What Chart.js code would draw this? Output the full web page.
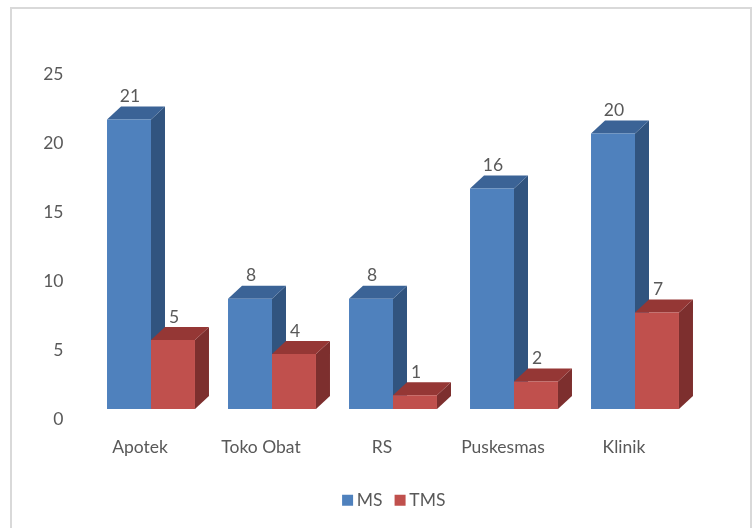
<!DOCTYPE html>
<html><head><meta charset="utf-8">
<style>html,body{margin:0;padding:0;background:#fff}#w{width:755px;height:528px;position:relative}canvas{display:block}</style>
<script src="https://cdn.jsdelivr.net/npm/chart.js@4"></script></head>
<body><div id="w"><canvas id="c" width="755" height="528"></canvas></div>
<script>
const categories = ["Apotek","Toko Obat","RS","Puskesmas","Klinik"];
const msValues = [21,8,8,16,20];
const tmsValues = [5,4,1,2,7];
const MS_FRONT="#4F81BD", MS_TOP="#3B6396", MS_SIDE="#31547F";
const TMS_FRONT="#C0504D", TMS_TOP="#953735", TMS_SIDE="#7D2F2E";
const DX=14, DY=13, TXT="#595959", FONT="Lato, sans-serif", FS=17.5;
const faces=[[MS_TOP,MS_SIDE],[TMS_TOP,TMS_SIDE]];
function poly(ctx,c,p){ctx.fillStyle=c;ctx.beginPath();p.forEach((q,i)=>i?ctx.lineTo(q[0],q[1]):ctx.moveTo(q[0],q[1]));ctx.closePath();ctx.fill();}
const frame={id:"frame",beforeDraw(ch){const x=ch.ctx;x.save();x.strokeStyle="#D9D9D9";x.lineWidth=2;x.strokeRect(11,8,740,540);x.restore();},
  afterLayout(ch){ch.legend.left+=48.5;ch.legend.right+=48.5;}};
const depth={id:"depth",beforeDatasetsDraw(ch){const x=ch.ctx;x.save();
  [0,1].forEach(d=>ch.getDatasetMeta(d).data.forEach(b=>{
    const l=b.x-b.width/2,r=b.x+b.width/2,t=b.y,bt=b.base;
    poly(x,faces[d][1],[[r,t],[r+DX,t-DY],[r+DX,bt-DY],[r,bt]]);
    poly(x,faces[d][0],[[l,t],[l+DX,t-DY],[r+DX,t-DY],[r,t]]);
  }));x.restore();},
  afterDatasetsDraw(ch){const x=ch.ctx;x.save();x.fillStyle=TXT;x.font=FS+"px "+FONT;x.textAlign="center";x.textBaseline="middle";
  [0,1].forEach(d=>ch.getDatasetMeta(d).data.forEach((b,i)=>{
    x.fillText(String(ch.data.datasets[d].data[i]),b.x+1,b.y-23);
  }));x.restore();}};
new Chart(document.getElementById("c"),{type:"bar",
 data:{labels:categories,datasets:[
  {label:"MS",data:msValues,backgroundColor:MS_FRONT,categoryPercentage:0.727,barPercentage:1},
  {label:"TMS",data:tmsValues,backgroundColor:TMS_FRONT,categoryPercentage:0.727,barPercentage:1}]},
 options:{responsive:false,animation:false,
  layout:{padding:{top:64.5,right:59.5,bottom:9,left:0}},
  scales:{
   x:{grid:{display:false},border:{display:false},
      ticks:{color:TXT,font:{size:FS,family:FONT},labelOffset:-11,padding:20,maxRotation:0,autoSkip:false},
      afterFit(s){s.height=65.5;}},
   y:{min:0,max:25,grid:{display:false,drawTicks:false},border:{display:false},
      ticks:{stepSize:5,color:TXT,font:{size:FS,family:FONT},labelOffset:10,padding:27},
      afterFit(s){s.width=90.5;}}},
  plugins:{tooltip:{enabled:false},legend:{position:"bottom",
     labels:{color:TXT,font:{size:FS,family:FONT},boxWidth:1,boxHeight:1,padding:17,
       generateLabels(ch){return ch.data.datasets.map((d,i)=>({text:d.label,fillStyle:d.backgroundColor,strokeStyle:d.backgroundColor,lineWidth:10,fontColor:TXT,datasetIndex:i,hidden:false}));}}}}},
 plugins:[frame,depth]});
</script></body></html>
